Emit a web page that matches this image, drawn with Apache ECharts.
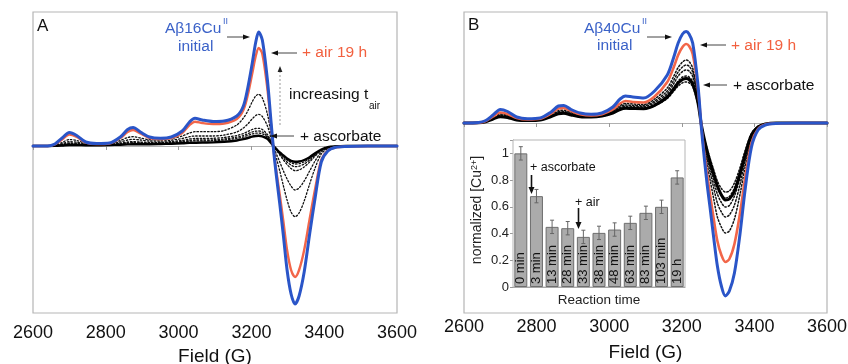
<!DOCTYPE html>
<html><head><meta charset="utf-8">
<script src="https://cdn.jsdelivr.net/npm/echarts@6/dist/echarts.min.js"></script>
<style>html,body{margin:0;padding:0;background:#fff}#c{width:848px;height:364px}</style>
</head><body><div id="c"></div>
<script>
// Magnetic field grid (G)
const field = [2600,2640,2660,2680,2700,2720,2745,2775,2810,2840,2860,2875,2895,2920,2950,2980,3010,3030,3045,3065,3095,3125,3160,3178,3190,3202,3212,3220,3230,3244,3254,3262,3270,3278,3288,3298,3309,3320,3331,3345,3360,3375,3392,3410,3430,3460,3520,3600];
const xTicks = [2600,2800,3000,3200,3400,3600];

// Panel A (Abeta16-Cu) EPR signal, arbitrary units
const A_initial = [0,0,2,8,13.5,10.5,4,2.5,3,9,16.5,18.5,14,9,7.7,9,15,24,27.7,26,24.5,25,30,40,58,82,104,114,106,66,24,-8,-34,-58,-90,-124,-148,-158,-150,-126,-88,-52,-16,-5,-1.5,-0.5,0,0];
const A_air19h = [0,0,1.5,6.5,11.5,9,3.5,2,2.5,8,14,16,12.5,8,7,8,13,21,24.3,23,22,22.5,27,36,51,72,90,98,92,57,21,-7,-29,-49,-76,-104,-124,-131,-124,-104,-73,-43,-14,-4.5,-1.5,-0.5,0,0];
const A_t1 = [0,0,0.8,3.5,6.5,5.5,3,2,2.5,5.5,8.5,9.3,8,6.5,6.5,7.5,10,13,14.3,14.3,14.3,15.5,21,28,35,44,50,51.7,48,32,12,-4,-14,-25,-40,-54,-66,-70.7,-67,-55,-38,-22,-8,-2.5,-0.8,0,0,0];
const A_t2 = [0,0,0.5,2.3,4.3,3.8,2.2,1.5,1.8,4,6,6.7,6,5,5,5.8,7.5,9.3,10,10,10,11,14,18,22,27,30.5,31.7,29.5,20,7.5,-2.5,-9,-16,-25,-33,-40,-44,-42,-35,-25,-15,-6,-2,-0.6,0,0,0];
const A_t3 = [0,0,0.3,1.6,3,2.7,1.6,1.2,1.4,2.8,4,4.3,4,3.6,3.8,4.5,5.6,7,7.5,7.5,7.7,8.5,10.5,12.5,14.5,16.5,17.5,17.7,16.5,11.5,4.5,-1.5,-5,-9,-14,-18.5,-22.5,-24.7,-24,-21,-16,-10,-4.5,-1.5,-0.5,0,0,0];
const A_t4 = [0,0,0.3,1.3,2.5,2.2,1.3,1,1.2,2.3,3.3,3.5,3.3,3,3.2,3.7,4.6,5.6,6,6,6.2,7,8.8,10.5,12.2,14,14.8,15,14,10,4,-1,-4.5,-8,-12,-16,-19,-20.7,-20.2,-18,-14,-9,-4.2,-1.4,-0.4,0,0,0];
const A_t5 = [0,0,0.2,1,2,1.8,1.1,0.9,1,1.9,2.7,3,2.8,2.6,2.8,3.2,4,4.8,5.2,5.2,5.4,6,7.6,9,10.5,12,12.8,13,12.2,8.8,3.5,-1,-4,-7,-10.5,-14,-16.5,-18,-17.7,-15.8,-12.5,-8,-3.8,-1.3,-0.4,0,0,0];
const A_ascorbate = [0,0,0.1,0.5,1,1,0.8,0.8,1,1.3,1.6,1.8,1.8,1.8,2,2.3,2.7,3.1,3.3,3.5,3.6,4.2,5.5,6.8,8,9.3,10,10.2,9.6,7.2,3,-0.5,-3.5,-6.5,-9.5,-12.5,-14.8,-15.7,-15.5,-14,-11.2,-7.2,-3.5,-1.2,-0.4,0,0,0];

// Panel B (Abeta40-Cu)
const B_initial = [0,0.5,2.5,8,13.5,11.5,6,4.3,5,11,17,17.5,13.5,10,8.7,10,16,24,27,26,25,32,48,66,80,89,91.5,89,80,40,-5,-35,-62,-85,-115,-143,-163,-173,-168,-150,-112,-65,-24,-7,-2,-0.5,0,0];
const B_air19h = [0,0.3,2,6.5,10.5,9,5,3.5,4.3,9.5,14.5,15,12,8.8,7.5,8.8,13.5,19.5,22,21,20.5,26.5,41,56,68,76,79,77,69,36,-4,-30,-52,-72,-96,-118,-132,-139,-136,-121,-91,-54,-20,-6,-1.5,-0.3,0,0];
const B_t1 = [0,0.3,1.8,5.5,9,7.8,4.3,3.2,4,8.5,12.3,12.8,10.6,8,7,8.2,12.5,17.5,19.5,19,18.5,24,35,47,55.5,61,63,61.5,55,29,-3,-24,-42,-57,-76,-94,-104,-110,-108,-96,-72,-43,-16,-5,-1.2,-0.3,0,0];
const B_t2 = [0,0.3,1.6,5,8,7,4,3,3.7,7.8,11.2,11.5,9.6,7.4,6.6,7.7,11.6,16.2,18,17.6,17.2,22,32,43,51,56,58,56.8,51,27,-3,-21,-36,-49,-65,-80,-89,-94,-92,-82,-62,-37,-14,-4.5,-1,-0.2,0,0];
const B_t3 = [0,0.3,1.5,4.6,7.3,6.4,3.6,2.8,3.4,7.2,10.4,10.8,9,7,6.3,7.3,11,15.2,16.8,16.5,16.2,20.5,29.5,39.5,47,51.5,53,52,46.5,24.5,-2.5,-19,-32,-44,-58,-71,-79.5,-84,-82.5,-73,-55,-33,-12.5,-4,-1,-0.2,0,0];
const B_t4 = [0,0.2,1.4,4.3,6.8,6,3.3,2.6,3.2,6.8,9.8,10.2,8.5,6.6,6.1,7.1,10.5,14.2,15.5,15.2,15,18.8,27.5,36,42,46,47,46,41.5,22,-2.2,-17,-28.5,-39,-51.5,-63,-71,-75,-73.5,-65,-49,-29.5,-11.5,-3.6,-0.9,-0.2,0,0];
const B_t5 = [0,0.2,1.3,4,6.2,5.5,3,2.4,3,6.3,9.2,9.5,7.9,6.2,5.8,6.8,9.9,13.4,14.5,14.3,14,17.2,24.5,32,37,40.2,41,40.2,36.5,19.5,-2,-15.5,-26,-35.5,-47,-58,-65.5,-69,-68,-60,-45,-27,-10.5,-3.3,-0.8,-0.2,0,0];
const B_ascorbate = [0,0.2,1.3,4,6.3,5.5,3,2.5,3,6.5,9.3,9.7,8,6.3,6,7,10,13.5,14.7,14.5,14.3,17.5,26,34,40,43.5,44.5,43.5,39,21,-2,-16,-28,-39,-51,-63,-72,-77,-76,-68,-51,-31,-12,-4,-1,0,0,0];

// Inset: normalized [Cu2+] vs reaction time
const reactionTimes = ['0 min','3 min','13 min','28 min','33 min','38 min','48 min','63 min','83 min','103 min','19 h'];
const cuNorm = [1.0,0.68,0.45,0.44,0.375,0.405,0.43,0.48,0.555,0.60,0.82];
const cuErr = [0.05,0.05,0.05,0.05,0.05,0.05,0.05,0.05,0.05,0.05,0.05];
const insetTicks = [0,0.2,0.4,0.6,0.8,1];

const FONT = '"Liberation Sans", Arial, Helvetica, sans-serif';
const BLUE = '#2a55c8', RED = '#f26649', BLUE_T = '#3b62c8', RED_T = '#f2603f';

function spec(arr, xi, color, width, dash, z) {
  return {
    type: 'line', xAxisIndex: xi, yAxisIndex: xi,
    data: field.map((f, i) => [f, arr[i]]),
    symbol: 'none', smooth: 0.3, silent: true, z: z,
    lineStyle: { color: color, width: width, type: dash || 'solid', join: 'round', cap: 'round' }
  };
}

function arrow(x1, y1, x2, y2, o) {
  o = o || {};
  const col = o.color || '#444', w = o.width || 1, hl = o.hl || 7, hw = o.hw || 2.6;
  const dx = x2 - x1, dy = y2 - y1, len = Math.hypot(dx, dy), ux = dx / len, uy = dy / len;
  const bx = x2 - ux * hl, by = y2 - uy * hl;
  return [
    { type: 'line', silent: true, z: 50, shape: { x1: x1, y1: y1, x2: bx, y2: by },
      style: { stroke: col, lineWidth: w, lineDash: o.dash || null } },
    { type: 'polygon', silent: true, z: 50, shape: { points: [[x2, y2], [bx - uy * hw, by + ux * hw], [bx + uy * hw, by - ux * hw]] },
      style: { fill: o.head || '#111' } }
  ];
}
function txt(x, y, s, size, color, align, extra) {
  return Object.assign({ type: 'text', x: x, y: y, silent: true, z: 50,
    style: { text: s, font: size + 'px ' + FONT, fill: color || '#111',
      textAlign: align || 'left', align: align || 'left', textVerticalAlign: 'middle', verticalAlign: 'middle' } }, extra || {});
}

const xAxisBase = (gi, margin, gap) => ({
  type: 'value', gridIndex: gi, min: 2600, max: 3600, interval: 200,
  axisLine: { show: true, lineStyle: { color: '#b0b0b0', width: 1.2 } },
  axisTick: { show: true, length: 4, lineStyle: { color: '#999' } },
  splitLine: { show: false },
  axisLabel: { fontSize: 18, fontFamily: FONT, color: '#111', margin: margin,
    formatter: v => xTicks.indexOf(v) >= 0 ? String(v) : '' },
  name: 'Field (G)', nameLocation: 'middle', nameGap: gap,
  nameTextStyle: { fontSize: 19, fontFamily: FONT, color: '#111' }
});

const chart = echarts.init(document.getElementById('c'), null, { renderer: 'canvas' });
const option = {
  animation: false,
  backgroundColor: '#fff',
  grid: [
    { left: 33, top: 12, width: 364, height: 301, show: true, borderColor: '#b5b5b5', borderWidth: 1.2, outerBoundsMode: 'none', containLabel: false },
    { left: 464, top: 12, width: 363, height: 301, show: true, borderColor: '#b5b5b5', borderWidth: 1.2, outerBoundsMode: 'none', containLabel: false },
    { left: 513, top: 140, width: 172, height: 147, show: true, borderColor: '#b5b5b5', borderWidth: 1, backgroundColor: '#fff', z: 5, outerBoundsMode: 'none', containLabel: false }
  ],
  xAxis: [
    xAxisBase(0, 11, 33),
    xAxisBase(1, 5, 30),
    { type: 'category', gridIndex: 2, data: reactionTimes,
      axisLine: { lineStyle: { color: '#999' } }, axisTick: { show: false }, axisLabel: { show: false },
      name: 'Reaction time', nameLocation: 'middle', nameGap: 6,
      nameTextStyle: { fontSize: 13.5, fontFamily: FONT, color: '#222' } }
  ],
  yAxis: [
    { type: 'value', gridIndex: 0, min: -167, max: 134, show: false },
    { type: 'value', gridIndex: 1, min: -190, max: 111, show: false },
    { type: 'value', gridIndex: 2, min: 0, max: 1.1, interval: 0.2,
      axisLine: { show: true, lineStyle: { color: '#999' } },
      axisTick: { show: true, length: 3, lineStyle: { color: '#999' } },
      splitLine: { show: false },
      axisLabel: { fontSize: 13, fontFamily: FONT, color: '#222', margin: 4,
        formatter: v => insetTicks.some(t => Math.abs(t - v) < 1e-6) ? String(+v.toFixed(1)) : '' } }
  ],
  series: [
    spec(A_t5, 0, '#111', 1.3, [1.5, 2], 2),
    spec(A_t4, 0, '#111', 1.3, [1.5, 2], 2),
    spec(A_t3, 0, '#111', 1.3, [1.5, 2], 2),
    spec(A_t2, 0, '#111', 1.3, [1.5, 2], 2),
    spec(A_t1, 0, '#111', 1.3, [1.5, 2], 2),
    spec(A_ascorbate, 0, '#000', 2.4, null, 3),
    spec(A_air19h, 0, RED, 2.4, null, 4),
    spec(A_initial, 0, BLUE, 3, null, 5),
    spec(B_t5, 1, '#111', 1.5, [1.5, 2], 2),
    spec(B_t4, 1, '#111', 1.5, [1.5, 2], 2),
    spec(B_t3, 1, '#111', 1.5, [1.5, 2], 2),
    spec(B_t2, 1, '#111', 1.5, [1.5, 2], 2),
    spec(B_t1, 1, '#111', 1.5, [1.5, 2], 2),
    spec(B_ascorbate, 1, '#000', 3, null, 3),
    spec(B_air19h, 1, RED, 2.6, null, 4),
    spec(B_initial, 1, BLUE, 3, null, 5),
    { type: 'bar', xAxisIndex: 2, yAxisIndex: 2, data: cuNorm, barCategoryGap: '17%', z: 6, silent: true,
      itemStyle: { color: '#ababab', borderColor: '#6e6e6e', borderWidth: 1 },
      label: { show: true, position: 'insideBottom', rotate: 90, align: 'left', verticalAlign: 'middle',
        distance: 3, formatter: '{b}', fontSize: 13, fontFamily: FONT, color: '#111' } },
    { type: 'custom', xAxisIndex: 2, yAxisIndex: 2, z: 7, silent: true,
      data: cuNorm.map((v, i) => [i, v - cuErr[i], v + cuErr[i]]),
      renderItem: function (params, api) {
        const lo = api.coord([api.value(0), api.value(1)]);
        const hi = api.coord([api.value(0), api.value(2)]);
        const c = 2;
        const st = { stroke: '#666', lineWidth: 1 };
        return { type: 'group', children: [
          { type: 'line', shape: { x1: hi[0], y1: hi[1], x2: lo[0], y2: lo[1] }, style: st },
          { type: 'line', shape: { x1: hi[0] - c, y1: hi[1], x2: hi[0] + c, y2: hi[1] }, style: st },
          { type: 'line', shape: { x1: lo[0] - c, y1: lo[1], x2: lo[0] + c, y2: lo[1] }, style: st }
        ] };
      } }
  ],
  graphic: [].concat(
    // Panel A annotations
    [txt(37, 26, 'A', 17, '#111'),
     txt(165, 29, 'Aβ16Cu', 15.5, BLUE_T),
     txt(223, 22, 'II', 9, BLUE_T),
     txt(178, 47, 'initial', 15.5, BLUE_T),
     txt(302, 53, '+ air 19 h', 15.5, RED_T),
     txt(289, 95, 'increasing t', 15.5, '#111'),
     txt(369, 106, 'air', 10, '#111'),
     txt(300, 137, '+ ascorbate', 15.5, '#111')],
    arrow(227, 37, 250, 37),
    arrow(297, 53, 271, 53),
    arrow(280, 125, 280, 66, { color: '#999', dash: [2, 2], head: '#222', hl: 6, hw: 2.4 }),
    arrow(294, 136, 270, 136),
    // Panel B annotations
    [txt(468, 25, 'B', 17, '#111'),
     txt(584, 29, 'Aβ40Cu', 15.5, BLUE_T),
     txt(642, 22, 'II', 9, BLUE_T),
     txt(597, 46, 'initial', 15.5, BLUE_T),
     txt(731, 46, '+ air 19 h', 15.5, RED_T),
     txt(733, 86, '+ ascorbate', 15.5, '#111')],
    arrow(647, 37, 672, 37),
    arrow(726, 45, 700, 45),
    arrow(727, 85, 703, 85),
    // Inset annotations
    [txt(530, 168, '+ ascorbate', 12.5, '#111'),
     txt(575, 203, '+ air', 12.5, '#111'),
     { type: 'text', x: 477, y: 210, rotation: Math.PI / 2, silent: true, z: 50,
       style: { text: '{a|normalized [Cu}{b|2+}{a|]}', textAlign: 'center', align: 'center',
         textVerticalAlign: 'middle', verticalAlign: 'middle',
         rich: { a: { fontSize: 14, fontFamily: FONT, fill: '#222' },
                 b: { fontSize: 9, fontFamily: FONT, fill: '#222', verticalAlign: 'top', lineHeight: 14 } } } }],
    arrow(531.5, 175, 531.5, 194, { color: '#111', width: 1.6, hl: 7, hw: 3 }),
    arrow(578.5, 208, 578.5, 229, { color: '#111', width: 1.6, hl: 7, hw: 3 })
  )
};
chart.setOption(option);
</script>
</body></html>
